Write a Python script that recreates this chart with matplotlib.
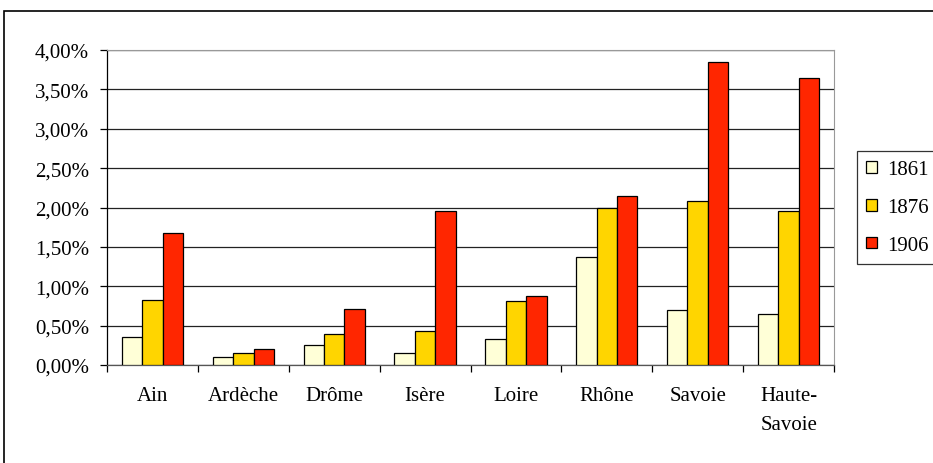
import numpy as np
import matplotlib
matplotlib.use("Agg")
from matplotlib import pyplot as plt
from matplotlib.patches import Rectangle

# Data (percent)
departements = ["Ain", "Ardèche", "Drôme", "Isère", "Loire", "Rhône", "Savoie", "Haute-\nSavoie"]
annees = ["1861", "1876", "1906"]
v1861 = [0.35, 0.10, 0.25, 0.15, 0.33, 1.37, 0.70, 0.65]
v1876 = [0.83, 0.15, 0.40, 0.43, 0.81, 2.00, 2.08, 1.95]
v1906 = [1.67, 0.20, 0.71, 1.95, 0.88, 2.15, 3.85, 3.65]
couleurs = ["#FFFFD7", "#FFD500", "#FF2600"]

plt.rcParams["font.family"] = ["Liberation Serif", "DejaVu Serif"]
fs = 15

fig = plt.figure(figsize=(9.33, 4.64), dpi=100)
ax = fig.add_axes([107 / 933, 98 / 464, 727 / 933, 315 / 464])

# outer chart frame
fig.patches.append(Rectangle((4 / 933, -0.01), 1.0, 1 - 12 / 464 + 0.01,
                             transform=fig.transFigure, fill=False,
                             edgecolor="black", linewidth=1.2))

x = np.arange(len(departements))
w = 0.225
for i, (vals, c, lab) in enumerate(zip([v1861, v1876, v1906], couleurs, annees)):
    ax.bar(x + (i - 1) * w, vals, width=w, color=c, edgecolor="black",
           linewidth=0.9, label=lab, zorder=3)

ax.set_xlim(-0.5, len(departements) - 0.5)
ax.set_ylim(0, 4.0)
yt = np.arange(0, 4.01, 0.5)
ax.set_yticks(yt)
ax.set_yticklabels([("%.2f%%" % v).replace(".", ",") for v in yt], fontsize=fs)
ax.yaxis.grid(True, color="#222222", linewidth=0.9, zorder=0)

ax.set_xticks(x)
ax.set_xticklabels(departements, fontsize=fs, linespacing=1.7, va="top")
ax.set_xticks(np.arange(-0.5, len(departements)), minor=True)
ax.tick_params(axis="x", which="major", length=0, pad=15)
ax.tick_params(axis="x", which="minor", length=5, width=0.9)
ax.tick_params(axis="y", length=5, width=0.9, pad=8)

for s in ["top", "right"]:
    ax.spines[s].set_color("#999999")
ax.spines["left"].set_linewidth(0.9)
ax.spines["bottom"].set_linewidth(0.9)
ax.spines["bottom"].set_color("#555555")

leg = fig.legend(loc="upper left", bbox_to_anchor=(857 / 933, 1 - 152 / 464),
                 fontsize=fs, frameon=True, fancybox=False, edgecolor="black",
                 handlelength=0.5, handleheight=0.5, handletextpad=0.5,
                 labelspacing=0.9, borderpad=0.45, borderaxespad=0)
leg.get_frame().set_linewidth(0.9)

fig.savefig("out.png", dpi=100)
